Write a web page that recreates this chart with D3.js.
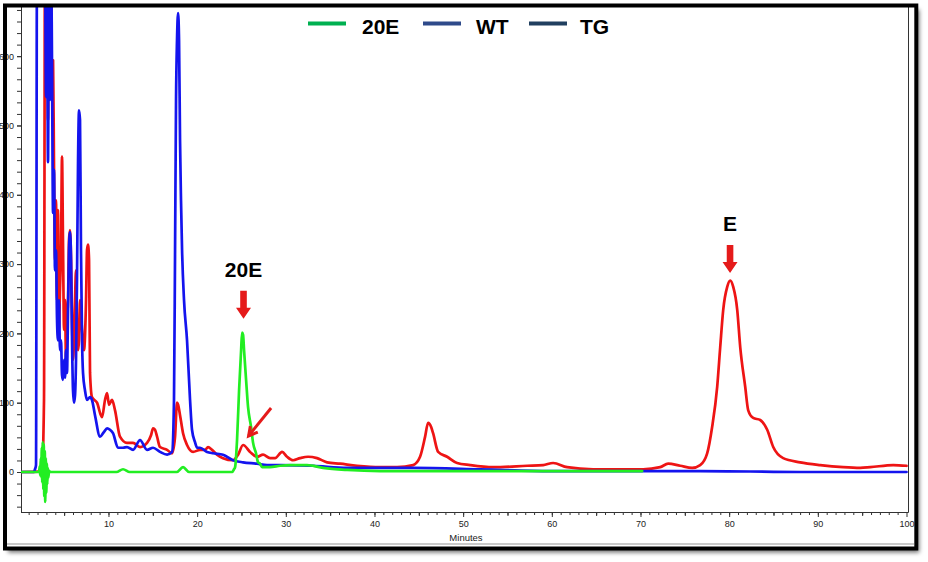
<!DOCTYPE html>
<html><head><meta charset="utf-8">
<script src="https://cdn.jsdelivr.net/npm/d3@7"></script>
<style>body{margin:0;background:#fff}svg{display:block}</style>
</head><body>
<svg id="chart" width="928" height="562"></svg>
<script>
// ---------- DATA ----------
const seriesNames = ["20E", "WT", "TG"];
const legendColors = ["#00b050", "#2e4a8a", "#203f5f"];
const traceColors = { e20: "#22ee22", wt: "#1414ee", tg: "#ee1414" };
const xTickValues = [10, 20, 30, 40, 50, 60, 70, 80, 90, 100];
const yTickValues = [0, 100, 200, 300, 400, 500, 600];
const xTitle = "Minutes";

// blue trace [minutes, signal]
const wtTrace = [[0.1,0],[1.6,0],[1.71,4],[1.83,10],[1.94,750],[2.84,750],[2.96,541],[3.07,750],[3.18,447],[3.29,750],[3.41,537],[3.52,750],[3.63,594],[3.75,374],[3.86,436],[3.97,291],[4.08,320],[4.20,219],[4.31,190],[4.42,248],[4.53,176],[4.65,190],[4.76,140],[4.87,133],[4.99,162],[5.10,136],[5.21,176],[5.32,143],[5.44,234],[5.55,320],[5.66,346],[5.78,306],[5.89,190],[6.00,118],[6.11,100],[6.23,111],[6.34,162],[6.45,277],[6.57,450],[6.68,522],[6.79,508],[6.90,320],[7.02,190],[7.13,143],[7.35,118],[7.58,104],[7.92,108],[8.14,104],[8.48,82],[9.05,51],[9.50,58],[9.84,63],[10.17,61],[10.51,56],[11.08,35],[11.64,35],[12.09,36],[12.77,32],[13.56,46],[14.35,32],[15.03,35],[15.81,29],[16.61,25],[17.17,29],[17.39,104],[17.51,320],[17.62,537],[17.73,623],[17.85,662],[17.96,623],[18.07,479],[18.18,392],[18.30,320],[18.52,248],[18.86,190],[19.20,104],[19.42,61],[19.76,43],[19.99,35],[20.33,35],[21.12,29],[21.79,27],[22.92,25],[24.05,17],[25.18,14],[26.76,12],[27.88,10],[29.35,10],[33.07,9],[36.91,6],[44.36,6],[51.91,4],[59.81,1.4],[76.73,1.4],[88.01,0],[100,0]];

// red trace [minutes, signal]
const tgTrace = [[0.1,0],[2.50,1],[2.73,104],[2.84,750],[3.07,750],[3.18,508],[3.29,750],[3.52,750],[3.63,537],[3.75,594],[3.86,436],[3.97,306],[4.08,392],[4.20,248],[4.31,378],[4.42,205],[4.53,263],[4.65,320],[4.76,455],[4.87,335],[4.99,205],[5.10,248],[5.21,162],[5.32,219],[5.44,248],[5.55,335],[5.66,349],[5.78,306],[5.89,219],[6.00,162],[6.11,190],[6.23,248],[6.34,291],[6.45,205],[6.57,176],[6.68,190],[6.79,248],[7.02,205],[7.24,176],[7.47,248],[7.58,320],[7.69,328],[7.81,306],[7.92,143],[8.14,108],[8.71,100],[9.27,79],[9.61,104],[9.84,114],[10.06,97],[10.40,104],[10.74,89],[11.30,51],[12.09,42],[12.77,42],[13.56,36],[14.35,42],[14.80,53],[15.03,63],[15.25,61],[15.48,51],[15.81,36],[16.61,32],[17.17,27],[17.51,51],[17.73,100],[17.85,97],[18.07,82],[18.41,56],[18.86,39],[19.54,29],[20.33,32],[20.89,32],[21.23,36],[21.68,32],[22.24,25],[22.92,20],[24.05,17],[24.62,25],[25.18,39],[25.97,29],[26.76,22],[27.43,25],[28.22,20],[28.79,20],[29.58,29],[30.14,22],[30.82,17],[31.61,20],[32.51,22],[33.52,20],[34.65,14],[36.12,12],[38.04,9],[40.63,7],[42.55,7],[44.36,10],[45.14,22],[45.71,51],[46.05,71],[46.39,65],[46.61,56],[47.18,29],[48.19,22],[49.32,13],[50.79,10],[53.38,7],[57.22,9],[59.02,10],[60.15,13],[61.72,7],[64.66,4],[70.30,4],[72.22,7],[73.12,12],[74.48,9],[75.83,6],[76.73,10],[77.52,27],[78.08,65],[78.65,123],[78.99,180],[79.33,234],[79.78,267],[80.12,276],[80.46,267],[80.91,234],[81.25,180],[81.81,123],[82.15,89],[82.71,78],[83.50,75],[84.29,61],[84.97,36],[86.09,20],[88.01,14],[90.27,10],[92.86,7],[94.78,6],[95.91,7],[98.51,10],[100,9]];

// green trace [minutes, signal]
const e20Trace = [[0.1,0],[2.17,0],[2.25,8],[2.30,-5],[2.36,20],[2.42,-8],[2.48,35],[2.53,-15],[2.59,43],[2.65,-25],[2.70,40],[2.76,-35],[2.82,30],[2.87,-43],[2.93,20],[2.99,-30],[3.05,12],[3.10,-18],[3.16,6],[3.22,-8],[3.30,2],[3.40,0],[10.9,0],[11.64,4],[12.4,0],[17.7,0],[18.41,7],[19.1,0],[23.94,0],[24.16,4],[24.28,7],[24.50,46],[24.73,118],[24.96,176],[25.07,201],[25.18,198],[25.29,176],[25.52,133],[25.74,94],[26.08,65],[26.31,42],[26.64,27],[26.87,14],[27.09,12],[27.32,7],[28.22,7],[29.35,9],[30.48,10],[32.40,10],[34.20,6],[36.91,3],[40.63,1.4],[51.91,1.4],[70.19,1.4]];

const peakLabels = [{label:"20E", t:25.23, v:221}, {label:"E", t:80.1, v:287}];
const pointerArrow = {from:[28.34, 92.4], to:[25.8, 52]};

// ---------- LAYOUT ----------
const svg = d3.select("#chart");
const plot = {left:21, right:908, top:7, bottom:512};
const x = d3.scaleLinear().domain([0, 100]).range([19.8, 906.5]);
const y = d3.scaleLinear().domain([-57.7, 669.5]).range([512, 8]);

const defs = svg.append("defs");
const f = defs.append("filter").attr("id","shadow").attr("x","-5%").attr("y","-5%").attr("width","110%").attr("height","112%");
f.append("feDropShadow").attr("dx",3).attr("dy",4).attr("stdDeviation",2.2).attr("flood-color","#000").attr("flood-opacity",0.55);
defs.append("clipPath").attr("id","clip").append("rect")
  .attr("x",plot.left).attr("y",plot.top).attr("width",plot.right-plot.left).attr("height",plot.bottom-plot.top);

// background panel with shadow
svg.append("rect").attr("x",5).attr("y",5.5).attr("width",911.3).attr("height",543)
  .attr("fill","#fff").attr("filter","url(#shadow)");

// axes
const yMinor = d3.range(-50, 667, 100/6);
svg.append("g").attr("transform",`translate(${plot.left},0)`)
  .call(d3.axisLeft(y).tickValues(yMinor).tickSize(4).tickFormat(""))
  .call(g=>g.select(".domain").remove())
  .call(g=>g.selectAll("line").attr("stroke","#333"));
svg.append("g").attr("transform",`translate(${plot.left},0)`)
  .call(d3.axisLeft(y).tickValues(yTickValues).tickSize(4).tickPadding(3).tickFormat(d3.format("d")))
  .call(g=>g.select(".domain").remove())
  .call(g=>g.selectAll("line").attr("stroke","#333"))
  .call(g=>g.selectAll("text").attr("font-family","Liberation Sans, Arial, sans-serif").attr("font-size",9).attr("fill","#222"));

const xMinor = d3.range(1, 100, 1);
svg.append("g").attr("transform",`translate(0,${plot.bottom})`)
  .call(d3.axisBottom(x).tickValues(xMinor).tickSize(3).tickFormat(""))
  .call(g=>g.select(".domain").remove())
  .call(g=>g.selectAll("line").attr("stroke","#333"));
svg.append("g").attr("transform",`translate(0,${plot.bottom})`)
  .call(d3.axisBottom(x).tickValues(d3.range(5,100,10)).tickSize(4).tickFormat(""))
  .call(g=>g.select(".domain").remove())
  .call(g=>g.selectAll("line").attr("stroke","#333"));
svg.append("g").attr("transform",`translate(0,${plot.bottom})`)
  .call(d3.axisBottom(x).tickValues(xTickValues).tickSize(5).tickPadding(4).tickFormat(d3.format("d")))
  .call(g=>g.select(".domain").remove())
  .call(g=>g.selectAll("line").attr("stroke","#333"))
  .call(g=>g.selectAll("text").attr("font-family","Liberation Sans, Arial, sans-serif").attr("font-size",9).attr("fill","#222"));

svg.append("text").attr("x",466).attr("y",541).attr("text-anchor","middle")
  .attr("font-family","Liberation Sans, Arial, sans-serif").attr("font-size",9.5).attr("fill","#222").text(xTitle);

// plot frame lines
const frame = svg.append("g").attr("stroke","#333").attr("stroke-width",1);
frame.append("line").attr("x1",plot.left+0.5).attr("x2",plot.left+0.5).attr("y1",plot.top).attr("y2",plot.bottom+0.5);
frame.append("line").attr("x1",plot.left).attr("x2",plot.right+0.5).attr("y1",plot.bottom+0.5).attr("y2",plot.bottom+0.5);
frame.append("line").attr("x1",plot.right+0.5).attr("x2",plot.right+0.5).attr("y1",plot.top).attr("y2",plot.bottom+0.5);
svg.append("line").attr("x1",7).attr("x2",914).attr("y1",544).attr("y2",544).attr("stroke","#c9c9c9").attr("stroke-width",2);

// traces
const line = d3.line().curve(d3.curveMonotoneX).x(d=>x(d[0])).y(d=>y(d[1]));
const traces = svg.append("g").attr("clip-path","url(#clip)");
[[tgTrace, traceColors.tg],[wtTrace, traceColors.wt],[e20Trace, traceColors.e20]].forEach(([data,c])=>{
  traces.append("path").datum(data).attr("d",line).attr("fill","none").attr("stroke",c)
    .attr("stroke-width",2.7).attr("stroke-linejoin","round").attr("stroke-linecap","round");
});

// annotations
const red = "#e51a1a";
const ann = svg.append("g");
peakLabels.forEach(p=>{
  const tx = x(p.t), ty = y(p.v);
  ann.append("path").attr("fill",red)
    .attr("d",`M${tx-3.3},${ty-28} L${tx+3.3},${ty-28} L${tx+3.3},${ty-11} L${tx+7.5},${ty-11} L${tx},${ty} L${tx-7.5},${ty-11} L${tx-3.3},${ty-11} Z`);
  ann.append("text").attr("x",tx).attr("y",ty-42).attr("text-anchor","middle")
    .attr("font-family","Liberation Sans, Arial, sans-serif").attr("font-weight","bold").attr("font-size",21)
    .attr("fill","#000").text(p.label);
});
{
  const x1 = x(pointerArrow.from[0]), y1 = y(pointerArrow.from[1]);
  const x2 = x(pointerArrow.to[0]), y2 = y(pointerArrow.to[1]);
  const ang = Math.atan2(y2-y1, x2-x1);
  const L = 10, a = 0.5;
  ann.append("line").attr("x1",x1).attr("y1",y1).attr("x2",x2).attr("y2",y2).attr("stroke",red).attr("stroke-width",3);
  ann.append("path").attr("fill","none").attr("stroke",red).attr("stroke-width",3).attr("stroke-linejoin","miter")
    .attr("d",`M${x2-L*Math.cos(ang-a)},${y2-L*Math.sin(ang-a)} L${x2},${y2} L${x2-L*Math.cos(ang+a)},${y2-L*Math.sin(ang+a)}`);
}

// legend
const legendPos = [[308,362],[423,476],[529,580]];
const lg = svg.append("g");
seriesNames.forEach((n,i)=>{
  lg.append("line").attr("x1",legendPos[i][0]).attr("x2",legendPos[i][0]+38).attr("y1",23.5).attr("y2",23.5)
    .attr("stroke",legendColors[i]).attr("stroke-width",4);
  lg.append("text").attr("x",legendPos[i][1]).attr("y",33.5)
    .attr("font-family","Liberation Sans, Arial, sans-serif").attr("font-weight","bold").attr("font-size",21)
    .attr("fill","#000").text(n);
});

// outer border
svg.append("rect").attr("x",5).attr("y",5.5).attr("width",911.3).attr("height",543)
  .attr("fill","none").attr("stroke","#000").attr("stroke-width",4);
</script>
</body></html>
